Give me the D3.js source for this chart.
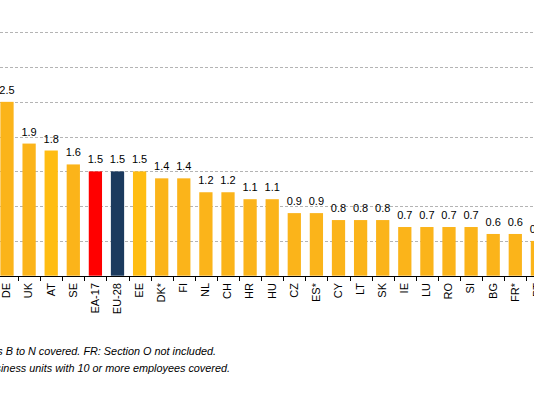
<!DOCTYPE html>
<html>
<head>
<meta charset="utf-8">
<script src="https://cdn.jsdelivr.net/npm/d3@7"></script>
<style>
  html, body { margin: 0; padding: 0; background: #fff; }
  svg { display: block; }
  .grid line { stroke: #b4b4b4; stroke-dasharray: 3,2; }
  .val { font: 11px "Liberation Sans", Arial, sans-serif; fill: #000; text-anchor: middle; }
  .cat { font: 11px "Liberation Sans", Arial, sans-serif; fill: #000; }
  .note { font: italic 10.85px "Liberation Sans", Arial, sans-serif; fill: #000; text-anchor: end; }
</style>
</head>
<body>
<div id="chart-area"></div>
<script>
// values (the chart is cropped on both sides)
let categories = ["DE", "UK", "AT", "SE", "EA-17", "EU-28", "EE", "DK*", "FI", "NL",
  "CH", "HR", "HU", "CZ", "ES*", "CY", "LT", "SK", "IE", "LU", "RO", "SI", "BG", "FR*", "PT"];
let values = [2.5, 1.9, 1.8, 1.6, 1.5, 1.5, 1.5, 1.4, 1.4, 1.2,
  1.2, 1.1, 1.1, 0.9, 0.9, 0.8, 0.8, 0.8, 0.7, 0.7, 0.7, 0.7, 0.6, 0.6, 0.5];
let gridTicks = [0.5, 1, 1.5, 2, 2.5, 3, 3.5];
let notes = [
  "ES*: Sections B to N covered. FR: Section O not included.",
  "DK*: Only business units with 10 or more employees covered."
];

function setGraph() {
  let width = 534,
    height = 394;

  let x = d3.scaleBand()
    .domain(categories)
    .range([-4.05, -4.05 + 22.1 * categories.length])
    .paddingInner(0.4)
    .paddingOuter(0.2);

  let y = d3.scaleLinear()
    .domain([0, 3.5])
    .range([275.7, 32.3]);

  let color = function (c) {
    if (c === "EA-17") return "#ff0000";
    if (c === "EU-28") return "#1b3a5e";
    if (c === "AT" || c === "EE") return "#ffbd12";
    return "#fbb41a";
  };

  let svg = d3.select("#chart-area").append("svg")
    .attr("width", width)
    .attr("height", height);

  svg.append("g")
    .attr("class", "grid")
    .selectAll("line")
    .data(gridTicks)
    .enter().append("line")
    .attr("x1", 0)
    .attr("x2", width)
    .attr("y1", d => Math.round(y(d)) + 0.5)
    .attr("y2", d => Math.round(y(d)) + 0.5);

  let data = categories.map((c, i) => ({ cat: c, value: values[i] }));

  svg.selectAll(".bar")
    .data(data)
    .enter().append("rect")
    .attr("class", "bar")
    .attr("x", d => x(d.cat))
    .attr("width", x.bandwidth())
    .attr("y", d => y(d.value))
    .attr("height", d => y(0) - y(d.value))
    .style("fill", d => color(d.cat));

  svg.selectAll(".val")
    .data(data)
    .enter().append("text")
    .attr("class", "val")
    .attr("x", d => x(d.cat) + x.bandwidth() / 2)
    .attr("y", d => y(d.value) - 8)
    .text(d => d3.format(".1f")(d.value));

  // x axis: line, ticks between the bars, rotated labels
  let axis = svg.append("g").attr("transform", "translate(0," + Math.round(y(0)) + ")");
  axis.append("line")
    .attr("x1", 0).attr("x2", width)
    .attr("y1", 0.5).attr("y2", 0.5)
    .attr("stroke", "#000");
  axis.selectAll(".tick")
    .data(categories)
    .enter().append("line")
    .attr("class", "tick")
    .attr("x1", d => Math.round(x(d) + x.bandwidth() + x.step() * 0.2) + 0.5)
    .attr("x2", d => Math.round(x(d) + x.bandwidth() + x.step() * 0.2) + 0.5)
    .attr("y1", 0).attr("y2", 5)
    .attr("stroke", "#000");
  axis.selectAll(".cat")
    .data(categories)
    .enter().append("text")
    .attr("class", "cat")
    .attr("text-anchor", "end")
    .attr("transform", d => "translate(" + (x(d) + x.bandwidth() / 2 - 0.5) + ",7) rotate(-90)")
    .attr("dy", "0.35em")
    .text(d => d);

  svg.selectAll(".note")
    .data(notes)
    .enter().append("text")
    .attr("class", "note")
    .attr("x", (d, i) => i === 0 ? 216 : 230)
    .attr("y", (d, i) => 355 + i * 17)
    .text(d => d);
}

setGraph();
</script>
</body>
</html>
